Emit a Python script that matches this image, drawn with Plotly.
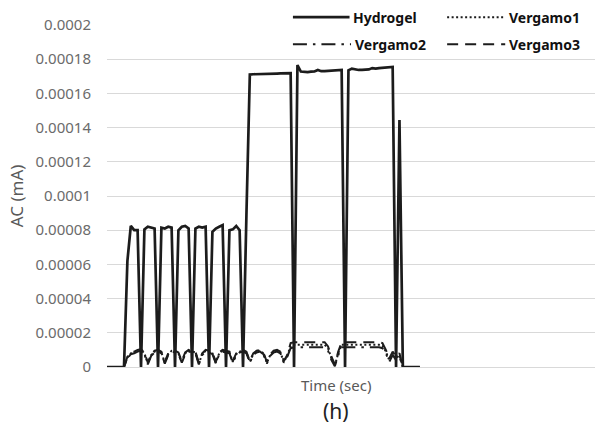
import plotly.graph_objects as go

# Current readings (mA), one value per sample, equally spaced in time
hydrogel = [
    0, 0, 0, 0, 0, 0,
    6.2e-5, 8.25e-5, 8.0e-5, 8.0e-5, 0,
    8.05e-5, 8.2e-5, 8.15e-5, 8.1e-5, 0,
    8.15e-5, 8.1e-5, 8.2e-5, 8.15e-5, 0,
    8.0e-5, 8.2e-5, 8.25e-5, 8.1e-5, 0,
    8.1e-5, 8.2e-5, 8.15e-5, 8.2e-5, 0,
    7.9e-5, 8.1e-5, 8.2e-5, 8.3e-5, 0,
    8.0e-5, 8.05e-5, 8.25e-5, 8.0e-5, 0,
    8.9e-5,
    1.71e-4, 1.712e-4, 1.712e-4, 1.713e-4, 1.714e-4, 1.715e-4, 1.715e-4,
    1.716e-4, 1.716e-4, 1.717e-4, 1.717e-4, 1.718e-4, 1.718e-4,
    0,
    1.766e-4, 1.728e-4, 1.725e-4, 1.725e-4, 1.727e-4, 1.728e-4, 1.737e-4,
    1.73e-4, 1.73e-4, 1.732e-4, 1.733e-4, 1.734e-4, 1.735e-4, 1.737e-4,
    0,
    1.735e-4, 1.745e-4, 1.74e-4, 1.737e-4, 1.737e-4, 1.738e-4, 1.74e-4,
    1.748e-4, 1.745e-4, 1.748e-4, 1.75e-4, 1.752e-4, 1.754e-4, 1.755e-4,
    0,
    1.444e-4,
    0, 0, 0, 0, 0, 0,
]

vergamo1 = [
    0, 0, 0, 0, 0, 0,
    5.5e-6, 8.0e-6, 8.5e-6, 9.5e-6, 1.0e-5,
    8.0e-6, 2.0e-6, 7.0e-6, 9.0e-6, 9.5e-6,
    8.5e-6, 2.5e-6, 7.5e-6, 9.5e-6, 9.0e-6,
    8.0e-6, 3.0e-6, 8.0e-6, 9.5e-6, 9.0e-6,
    8.5e-6, 2.0e-6, 7.5e-6, 9.5e-6, 9.0e-6,
    8.0e-6, 2.5e-6, 8.0e-6, 9.5e-6, 9.0e-6,
    8.5e-6, 3.0e-6, 7.5e-6, 9.0e-6, 9.5e-6,
    8.5e-6, 3.0e-6, 7.5e-6, 9.0e-6, 9.5e-6,
    8.0e-6, 2.5e-6, 7.0e-6, 9.0e-6, 9.5e-6,
    8.5e-6, 3.0e-6, 6.5e-6, 1.25e-5, 1.3e-5,
    1.3e-5, 1.32e-5, 1.3e-5, 1.33e-5, 1.3e-5,
    1.32e-5, 1.3e-5, 1.33e-5, 1.3e-5, 1.1e-5,
    5.0e-6, 1.0e-6, 8.0e-6, 1.3e-5, 1.3e-5,
    1.32e-5, 1.3e-5, 1.33e-5, 1.3e-5, 1.32e-5,
    1.3e-5, 1.33e-5, 1.3e-5, 1.32e-5, 1.3e-5,
    1.25e-5, 9.0e-6, 4.0e-6, 8.0e-6, 5.0e-6,
    7.0e-6, 0, 0, 0, 0, 0, 0,
]

vergamo2 = [
    0, 0, 0, 0, 0, 0,
    5.0e-6, 7.5e-6, 8.0e-6, 9.0e-6, 9.5e-6,
    7.5e-6, 1.5e-6, 6.5e-6, 8.5e-6, 9.0e-6,
    8.0e-6, 2.0e-6, 7.0e-6, 9.0e-6, 8.5e-6,
    7.5e-6, 2.5e-6, 7.5e-6, 9.0e-6, 8.5e-6,
    8.0e-6, 1.5e-6, 7.0e-6, 9.0e-6, 8.5e-6,
    7.5e-6, 2.0e-6, 7.5e-6, 9.0e-6, 8.5e-6,
    8.0e-6, 2.5e-6, 7.0e-6, 8.5e-6, 9.0e-6,
    8.0e-6, 2.5e-6, 7.0e-6, 8.5e-6, 9.0e-6,
    7.5e-6, 2.0e-6, 6.5e-6, 8.5e-6, 9.0e-6,
    8.0e-6, 2.5e-6, 6.0e-6, 1.1e-5, 1.15e-5,
    1.15e-5, 1.17e-5, 1.15e-5, 1.16e-5, 1.15e-5,
    1.17e-5, 1.15e-5, 1.16e-5, 1.15e-5, 9.5e-6,
    4.0e-6, 5.0e-7, 7.0e-6, 1.15e-5, 1.15e-5,
    1.17e-5, 1.15e-5, 1.16e-5, 1.15e-5, 1.17e-5,
    1.15e-5, 1.16e-5, 1.15e-5, 1.17e-5, 1.15e-5,
    1.1e-5, 8.0e-6, 3.0e-6, 7.0e-6, 4.0e-6,
    6.0e-6, 0, 0, 0, 0, 0, 0,
]

vergamo3 = [
    0, 0, 0, 0, 0, 0,
    6.0e-6, 8.5e-6, 9.0e-6, 1.0e-5, 1.05e-5,
    8.5e-6, 2.5e-6, 7.5e-6, 9.5e-6, 1.0e-5,
    9.0e-6, 3.0e-6, 8.0e-6, 1.0e-5, 9.5e-6,
    8.5e-6, 3.5e-6, 8.5e-6, 1.0e-5, 9.5e-6,
    9.0e-6, 2.5e-6, 8.0e-6, 1.0e-5, 9.5e-6,
    8.5e-6, 3.0e-6, 8.5e-6, 1.0e-5, 9.5e-6,
    9.0e-6, 3.5e-6, 8.0e-6, 9.5e-6, 1.0e-5,
    9.0e-6, 3.5e-6, 8.0e-6, 9.5e-6, 1.0e-5,
    8.5e-6, 3.0e-6, 7.5e-6, 9.5e-6, 1.0e-5,
    9.0e-6, 3.5e-6, 7.0e-6, 1.4e-5, 1.45e-5,
    1.45e-5, 1.47e-5, 1.45e-5, 1.46e-5, 1.45e-5,
    1.47e-5, 1.45e-5, 1.46e-5, 1.45e-5, 1.2e-5,
    6.0e-6, 1.5e-6, 9.0e-6, 1.45e-5, 1.45e-5,
    1.47e-5, 1.45e-5, 1.46e-5, 1.45e-5, 1.47e-5,
    1.45e-5, 1.46e-5, 1.45e-5, 1.47e-5, 1.45e-5,
    1.4e-5, 1.0e-5, 5.0e-6, 9.0e-6, 6.0e-6,
    8.0e-6, 0, 0, 0, 0, 0, 0,
]

series_names = ["Hydrogel", "Vergamo1", "Vergamo2", "Vergamo3"]

y_tick_values = [0, 0.00002, 0.00004, 0.00006, 0.00008, 0.0001,
                 0.00012, 0.00014, 0.00016, 0.00018, 0.0002]
y_tick_labels = ["0", "0.00002", "0.00004", "0.00006", "0.00008", "0.0001",
                 "0.00012", "0.00014", "0.00016", "0.00018", "0.0002"]

INK = "#1c1c1c"
styles = {
    "Hydrogel": dict(color=INK, width=2.7, dash="solid"),
    "Vergamo1": dict(color=INK, width=2.0, dash="2px,2.5px"),
    "Vergamo2": dict(color=INK, width=2.0, dash="14px,6px,2.5px,6px"),
    "Vergamo3": dict(color=INK, width=2.0, dash="11px,7px"),
}

fig = go.Figure()
for name, values in zip(series_names, [hydrogel, vergamo1, vergamo2, vergamo3]):
    fig.add_trace(go.Scatter(y=values, mode="lines", name=name,
                             line=styles[name], showlegend=False))

# Legend drawn as line samples beside their names (two rows, two columns)
legend_slots = {
    "Hydrogel": (0.381, 0.497, 1.023),
    "Vergamo1": (0.697, 0.816, 1.023),
    "Vergamo2": (0.381, 0.500, 0.944),
    "Vergamo3": (0.697, 0.816, 0.944),
}
for name, (x0, x1, yy) in legend_slots.items():
    fig.add_shape(type="line", xref="paper", yref="paper",
                  x0=x0, x1=x1, y0=yy, y1=yy, line=styles[name])
    fig.add_annotation(xref="paper", yref="paper", x=x1 + 0.004, y=yy,
                       text=name, showarrow=False, xanchor="left",
                       yanchor="middle",
                       font=dict(family="Noto Sans", size=14, color="#111111",
                                 weight="bold"))

fig.add_annotation(xref="paper", yref="paper", x=-0.186, y=0.5,
                   text="AC (mA)", textangle=-90, showarrow=False,
                   xanchor="center", yanchor="middle",
                   font=dict(family="Noto Sans", size=17, color="#595959"))
fig.add_annotation(xref="paper", yref="paper", x=0.469, y=-0.053,
                   text="Time (sec)", showarrow=False,
                   xanchor="center", yanchor="middle",
                   font=dict(family="Noto Sans", size=15, color="#595959"))
fig.add_annotation(xref="paper", yref="paper", x=0.469, y=-0.129,
                   text="(h)", showarrow=False,
                   xanchor="center", yanchor="middle",
                   font=dict(family="Noto Sans", size=21, color="#222222"))

fig.update_layout(
    width=595, height=432,
    margin=dict(l=107, r=0, t=25, b=65),
    paper_bgcolor="white", plot_bgcolor="white",
    font=dict(family="Noto Sans"),
)
fig.update_xaxes(range=[0, 143.5], showgrid=False, zeroline=False,
                 showticklabels=False, showline=False, ticks="")
fig.update_yaxes(range=[0, 0.0002], tickvals=y_tick_values,
                 ticktext=y_tick_labels, showgrid=True, gridcolor="#d9d9d9",
                 gridwidth=1, zeroline=True, zerolinecolor="#d9d9d9",
                 zerolinewidth=1, showline=False, ticks="",
                 ticklabelstandoff=15,
                 tickfont=dict(family="Noto Sans", size=15, color="#6b6b6b"))

fig.write_html("out.html")
